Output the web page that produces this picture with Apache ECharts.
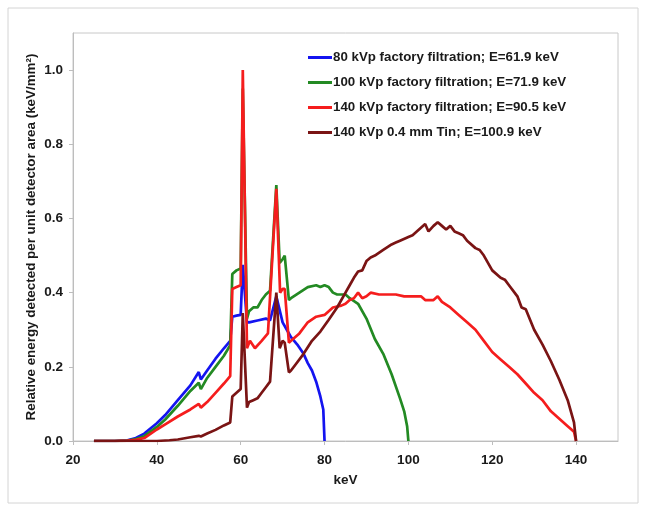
<!DOCTYPE html>
<html><head><meta charset="utf-8">
<script src="https://cdn.jsdelivr.net/npm/echarts@6/dist/echarts.min.js"></script>
<style>html,body{margin:0;padding:0;background:#fff}#c{width:645px;height:511px}</style>
</head><body><div id="c"></div>
<script>
const seriesNames = [
  '80 kVp factory filtration; E=61.9 keV',
  '100 kVp factory filtration; E=71.9 keV',
  '140 kVp factory filtration; E=90.5 keV',
  '140 kVp 0.4 mm Tin; E=100.9 keV'
];
const seriesColors = ['#1414f0', '#238a23', '#f51d1d', '#7a1414'];
const xTicks = [20, 40, 60, 80, 100, 120, 140];
const yTicks = [0, 0.2, 0.4, 0.6, 0.8, 1.0];

// [keV, relative energy]
const blue80 = [[25,0],[30,0],[33,0.002],[35,0.008],[37,0.02],[40,0.048],[42,0.07],[45,0.11],[48,0.15],[50,0.186],[50.5,0.166],[52,0.19],[54,0.222],[56,0.25],[57.5,0.27],[58,0.335],[59,0.338],[60,0.34],[60.5,0.475],[61.5,0.32],[62,0.32],[64,0.325],[66,0.33],[67,0.325],[68.5,0.39],[70,0.32],[71,0.30],[72,0.28],[73.5,0.26],[75,0.235],[76,0.21],[77,0.19],[78,0.16],[79,0.12],[79.7,0.085],[80,0]];
const green100 = [[25,0],[30,0],[33,0.001],[35,0.005],[37,0.013],[40,0.038],[42,0.058],[45,0.095],[48,0.135],[50,0.157],[50.5,0.14],[52,0.17],[54,0.2],[56,0.23],[57.5,0.258],[58,0.45],[59,0.46],[60,0.465],[60.5,0.95],[61.5,0.33],[62,0.35],[63,0.36],[64,0.36],[65,0.38],[66,0.395],[67,0.405],[68.5,0.69],[69.3,0.48],[70,0.49],[70.5,0.50],[71.5,0.38],[72,0.385],[74,0.40],[76,0.415],[78,0.42],[79,0.415],[80,0.42],[81,0.415],[82,0.40],[83,0.395],[85,0.395],[86,0.385],[88,0.37],[90,0.33],[92,0.275],[94,0.235],[96,0.18],[98,0.115],[99,0.08],[99.7,0.04],[100,0]];
const red140 = [[25,0],[30,0],[33,0.001],[35,0.003],[37,0.008],[40,0.031],[42,0.045],[45,0.066],[48,0.085],[50,0.10],[50.5,0.09],[52,0.105],[54,0.13],[56,0.155],[57.5,0.175],[58,0.41],[59,0.415],[60,0.42],[60.5,1.0],[61.5,0.25],[62.2,0.27],[63.4,0.25],[65,0.27],[66.5,0.29],[68.5,0.68],[69.4,0.40],[70,0.41],[70.5,0.41],[71.5,0.265],[72,0.27],[74,0.29],[76,0.32],[78,0.335],[80,0.34],[82,0.36],[84,0.365],[85,0.37],[86,0.38],[87,0.385],[88,0.40],[89,0.385],[90,0.39],[91,0.40],[93,0.395],[95,0.395],[97,0.395],[99,0.39],[101,0.39],[103,0.39],[104,0.38],[105,0.38],[106,0.38],[107,0.39],[108,0.375],[110,0.36],[112,0.34],[114,0.32],[116,0.30],[118,0.27],[120,0.24],[122,0.22],[124,0.20],[126,0.18],[128,0.155],[130,0.13],[132,0.11],[134,0.08],[136,0.06],[138,0.04],[139.5,0.025],[140,0]];
const brown140Tin = [[25,0],[35,0],[40,0],[43,0.002],[45,0.004],[48,0.01],[50,0.014],[50.5,0.012],[52,0.02],[54,0.03],[56,0.042],[57.5,0.05],[58,0.12],[59,0.13],[60,0.14],[60.5,0.345],[61.5,0.09],[62,0.105],[63,0.11],[64,0.115],[65,0.13],[66,0.145],[67,0.16],[68.5,0.40],[69.3,0.25],[70,0.27],[70.5,0.265],[71.5,0.185],[72,0.19],[73,0.205],[75,0.235],[77,0.27],[79,0.295],[81,0.327],[83,0.36],[85,0.40],[86,0.42],[87,0.44],[88,0.457],[89,0.46],[90,0.485],[91,0.495],[92,0.50],[94,0.515],[96,0.53],[97,0.535],[98,0.54],[100,0.55],[101,0.555],[102,0.565],[103,0.575],[104,0.585],[104.8,0.565],[106,0.58],[107,0.59],[108,0.58],[109,0.57],[110,0.58],[111,0.565],[112,0.56],[113,0.555],[114,0.54],[116,0.52],[117,0.515],[118,0.50],[120,0.46],[122,0.44],[123,0.435],[124,0.42],[126,0.39],[127,0.36],[128,0.355],[130,0.30],[132,0.26],[134,0.215],[136,0.165],[138,0.11],[139.5,0.05],[140,0]];
const allData = [blue80, green100, red140, brown140Tin];

const chart = echarts.init(document.getElementById('c'), null, {renderer: 'canvas'});
const font = 'Liberation Sans, Arial, sans-serif';
chart.setOption({
  animation: false,
  backgroundColor: '#fff',
  graphic: [{type: 'rect', shape: {x: 8, y: 8, width: 630, height: 495}, style: {fill: 'none', stroke: '#d4d4d4', lineWidth: 1}, silent: true}],
  grid: {left: 73, right: 27, top: 33, bottom: 70, show: true, borderColor: '#c8c8c8', borderWidth: 1},
  legend: {
    orient: 'vertical', left: 303, top: 46, itemGap: 12, itemWidth: 24, itemHeight: 3,
    icon: 'rect', data: seriesNames,
    textStyle: {fontFamily: font, fontWeight: 'bold', fontSize: 13.3, color: '#1a1a1a', padding: [0,0,0,-4]}
  },
  xAxis: {
    type: 'value', min: 20, max: 150, interval: 20,
    name: 'keV', nameLocation: 'middle', nameGap: 32,
    nameTextStyle: {fontFamily: font, fontWeight: 'bold', fontSize: 13.5, color: '#1a1a1a'},
    axisLine: {show: true, lineStyle: {color: '#bdbdbd'}},
    axisTick: {show: true, length: 4, lineStyle: {color: '#bdbdbd'}},
    splitLine: {show: false},
    axisLabel: {fontFamily: font, fontWeight: 'bold', fontSize: 13.5, color: '#1a1a1a', margin: 12, showMaxLabel: false,
      formatter: v => xTicks.includes(v) ? String(v) : ''}
  },
  yAxis: {
    type: 'value', min: 0, max: 1.1, interval: 0.2,
    name: 'Relative energy detected per unit detector area (keV/mm²)', nameLocation: 'middle', nameGap: 35,
    nameMoveOverlap: false,
    nameTextStyle: {fontFamily: font, fontWeight: 'bold', fontSize: 13.4, color: '#1a1a1a'},
    axisLine: {show: true, lineStyle: {color: '#bdbdbd'}},
    axisTick: {show: true, length: 4, lineStyle: {color: '#bdbdbd'}},
    splitLine: {show: false},
    axisLabel: {fontFamily: font, fontWeight: 'bold', fontSize: 13.5, color: '#1a1a1a', margin: 10, showMaxLabel: false,
      formatter: v => yTicks.some(t => Math.abs(t - v) < 1e-9) ? v.toFixed(1) : ''}
  },
  series: allData.map((d, i) => ({
    type: 'line', name: seriesNames[i], data: d, showSymbol: false, symbol: 'none',
    lineStyle: {width: 2.7, color: seriesColors[i]}, itemStyle: {color: seriesColors[i]}, z: 2 + i
  }))
});
</script></body></html>
